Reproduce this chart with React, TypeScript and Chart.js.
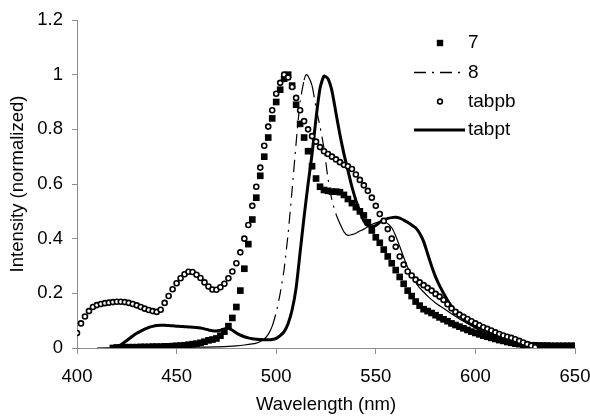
import React, { useEffect, useRef } from 'react';
import { Chart, registerables } from 'chart.js';

Chart.register(...registerables);

// ---------- Data ----------
const LABELS = ['7', '8', 'tabpb', 'tabpt'];

const WL_7 = [418,420,422,424,426,428,430,432,434,436,438,440,442,444,446,448,450,452,454,456,458,460,462,464,466,468,470,472,474,476,478,480,482,484,486,488,490,492,494,496,498,500,502,504,506,508,510,512,514,516,518,520,522,524,526,528,530,532,534,536,538,540,542,544,546,548,550,552,554,556,558,560,562,564,566,568,570,572,574,576,578,580,582,584,586,588,590,592,594,596,598,600,602,604,606,608,610,612,614,616,618,620,622,624,626,628,630,632,634,636,638,640,642,644,646,648,650];
const VAL_7 = [0,0.002,0.002,0.003,0.003,0.003,0.003,0.004,0.004,0.004,0.005,0.005,0.005,0.006,0.006,0.007,0.008,0.009,0.01,0.012,0.014,0.016,0.019,0.023,0.028,0.031,0.035,0.045,0.06,0.08,0.11,0.15,0.21,0.29,0.38,0.47,0.55,0.63,0.7,0.77,0.84,0.9,0.945,0.985,1.0,0.96,0.89,0.82,0.77,0.72,0.665,0.62,0.59,0.578,0.575,0.572,0.572,0.57,0.56,0.545,0.53,0.515,0.5,0.485,0.46,0.43,0.405,0.385,0.36,0.335,0.31,0.285,0.26,0.235,0.21,0.19,0.17,0.155,0.142,0.135,0.128,0.12,0.112,0.105,0.098,0.09,0.084,0.078,0.072,0.066,0.06,0.055,0.05,0.045,0.041,0.037,0.033,0.029,0.026,0.022,0.019,0.016,0.014,0.012,0.011,0.01,0.01,0.009,0.009,0.009,0.008,0.008,0.008,0.008,0.008,0.008,0.008];

const WL_8 = [410,420,430,440,450,460,470,476,480,484,488,490,492,494,496,498,500,502,504,506,508,510,512,514,515,516,518,520,522,524,526,528,530,532,534,536,538,540,542,544,546,548,550,552,554,556,558,560,562,564,566,568,570,572,574,576,578,580,584,588,592,596,600,605,610,615,620,625,630,640,650];
const VAL_8 = [0,0.001,0.001,0.002,0.002,0.003,0.004,0.006,0.008,0.011,0.015,0.018,0.024,0.033,0.05,0.08,0.13,0.2,0.29,0.42,0.58,0.75,0.9,0.98,1.0,0.995,0.96,0.88,0.81,0.73,0.62,0.54,0.49,0.455,0.425,0.412,0.415,0.42,0.428,0.435,0.444,0.452,0.458,0.462,0.462,0.455,0.44,0.41,0.372,0.332,0.295,0.265,0.24,0.22,0.205,0.19,0.177,0.165,0.145,0.125,0.106,0.09,0.075,0.058,0.044,0.033,0.024,0.017,0.012,0.008,0.006];

const WL_TABPB = [400,402,404,406,408,410,412,414,416,418,420,422,424,426,428,430,432,434,436,438,440,442,444,446,448,450,452,454,456,458,460,462,464,466,468,470,472,474,476,478,480,482,484,486,488,490,492,494,496,498,500,502,504,506,508,510,512,514,516,518,520,522,524,526,528,530,532,534,536,538,540,542,544,546,548,550,552,554,556,558,560,562,564,566,568,570,572,574,576,578,580,582,584,586,588,590,592,594,596,598,600,602,604,606,608,610,612,614,616,618,620,622,624,626,628,630];
const VAL_TABPB = [0.055,0.09,0.115,0.135,0.15,0.157,0.161,0.164,0.166,0.168,0.169,0.169,0.168,0.165,0.161,0.156,0.15,0.144,0.139,0.135,0.132,0.14,0.165,0.19,0.215,0.237,0.255,0.27,0.279,0.278,0.268,0.256,0.24,0.225,0.214,0.213,0.222,0.235,0.255,0.28,0.31,0.35,0.4,0.45,0.52,0.59,0.66,0.74,0.81,0.87,0.93,0.97,1.0,0.99,0.955,0.915,0.87,0.83,0.8,0.775,0.755,0.735,0.72,0.71,0.7,0.69,0.68,0.67,0.665,0.655,0.635,0.615,0.595,0.575,0.55,0.52,0.49,0.465,0.435,0.4,0.37,0.335,0.305,0.28,0.265,0.25,0.24,0.23,0.22,0.21,0.198,0.188,0.176,0.16,0.145,0.132,0.122,0.114,0.106,0.098,0.09,0.083,0.076,0.07,0.064,0.057,0.051,0.046,0.041,0.037,0.032,0.026,0.02,0.014,0.008,0.003];

const WL_TABPT = [418,420,422,424,426,428,430,432,434,436,438,440,442,444,446,448,450,452,454,456,458,460,462,464,466,468,470,472,474,476,478,480,482,484,486,488,490,492,494,496,498,500,502,504,506,508,510,512,514,516,518,520,522,524,526,528,530,532,534,536,538,540,542,544,546,548,550,552,554,556,558,560,562,564,566,568,570,572,574,576,578,580,582,584,586,588,590,594,598,602,606,610,615,620,625,630,640,650];
const VAL_TABPT = [0,0.005,0.012,0.022,0.033,0.044,0.054,0.062,0.069,0.075,0.079,0.082,0.083,0.083,0.082,0.081,0.08,0.079,0.078,0.077,0.076,0.075,0.073,0.07,0.066,0.063,0.062,0.065,0.07,0.072,0.065,0.055,0.047,0.041,0.037,0.034,0.032,0.031,0.03,0.03,0.031,0.035,0.045,0.06,0.09,0.14,0.22,0.35,0.48,0.6,0.71,0.84,0.95,0.995,0.985,0.94,0.86,0.78,0.71,0.65,0.59,0.54,0.5,0.465,0.448,0.444,0.448,0.46,0.468,0.474,0.477,0.478,0.475,0.468,0.46,0.45,0.44,0.42,0.39,0.345,0.3,0.26,0.228,0.2,0.175,0.152,0.132,0.105,0.085,0.068,0.055,0.044,0.033,0.024,0.017,0.012,0.008,0.006];

const X_MIN = 400;
const X_MAX = 650;
const X_STEP = 50;
const Y_MIN = 0;
const Y_MAX = 1.2;
const Y_STEP = 0.2;

const X_TITLE = 'Wavelength (nm)';
const Y_TITLE = 'Intensity (normalized)';

// ---------- Styling ----------
const FONT = "'Liberation Sans', Arial, sans-serif";
const AXIS_GRAY = '#8c8c8c';
const DASH_DOT = [12, 6, 2, 6];

function pts(xs: number[], ys: number[]) {
  return xs.map((x, i) => ({ x, y: ys[i] }));
}

const legendPlugin = {
  id: 'customLegend',
  afterDraw(chart: any) {
    const c: CanvasRenderingContext2D = chart.ctx;
    const area = chart.chartArea;
    const symX0 = area.right - 161;
    const symX1 = area.right - 110;
    const symMid = (symX0 + symX1) / 2 + 0.5;
    const textX = area.right - 107;
    const rowY = [area.top + 23, area.top + 52.5, area.top + 81.5, area.top + 110];
    c.save();
    c.fillStyle = '#000';
    c.strokeStyle = '#000';
    // 7: filled square
    c.fillRect(symMid - 3.2, rowY[0] - 3.2, 6.4, 6.4);
    // 8: dash-dot line
    c.lineWidth = 1.3;
    c.setLineDash(DASH_DOT);
    c.beginPath();
    c.moveTo(symX0, rowY[1]);
    c.lineTo(symX1, rowY[1]);
    c.stroke();
    c.setLineDash([]);
    // tabpb: open circle
    c.lineWidth = 1.6;
    c.fillStyle = '#fff';
    c.beginPath();
    c.arc(symMid, rowY[2], 2.4, 0, Math.PI * 2);
    c.fill();
    c.stroke();
    // tabpt: thick line
    c.lineWidth = 3;
    c.beginPath();
    c.moveTo(symX0, rowY[3]);
    c.lineTo(symX1, rowY[3]);
    c.stroke();
    // labels
    c.fillStyle = '#000';
    c.font = `19px ${FONT}`;
    c.textAlign = 'left';
    c.textBaseline = 'middle';
    LABELS.forEach((t, i) => c.fillText(t, textX, rowY[i]));
    c.restore();
  },
};

export default function App() {
  const ref = useRef<HTMLCanvasElement>(null);

  useEffect(() => {
    const canvas = ref.current;
    if (!canvas) return;
    const chart = new Chart(canvas, {
      type: 'scatter',
      data: {
        datasets: [
          {
            label: LABELS[2],
            data: pts(WL_TABPB, VAL_TABPB),
            showLine: false,
            pointStyle: 'circle',
            pointRadius: 2.5,
            pointBorderWidth: 1.6,
            pointBorderColor: '#000',
            pointBackgroundColor: '#fff',
            order: 0,
          },
          {
            label: LABELS[0],
            data: pts(WL_7, VAL_7),
            showLine: false,
            pointStyle: 'rect',
            pointRadius: 4.7,
            pointBorderWidth: 0,
            pointBorderColor: '#000',
            pointBackgroundColor: '#000',
            order: 1,
          },
          {
            label: LABELS[3],
            data: pts(WL_TABPT, VAL_TABPT),
            showLine: true,
            borderColor: '#000',
            borderWidth: 3,
            pointRadius: 0,
            tension: 0.2,
            borderJoinStyle: 'round',
            order: 2,
          },
          {
            label: LABELS[1],
            data: pts(WL_8, VAL_8),
            showLine: true,
            borderColor: '#000',
            borderWidth: 1.2,
            pointRadius: 0,
            tension: 0.2,
            segment: {
              borderDash: (ctx: any) =>
                Math.abs(ctx.p1.y - ctx.p0.y) > 12 ? DASH_DOT : undefined,
            },
            order: 3,
          },
        ],
      },
      options: {
        responsive: false,
        animation: false,
        devicePixelRatio: 1,
        events: [],
        layout: { padding: { top: 20, right: 15, left: 0, bottom: 0 } },
        plugins: {
          legend: { display: false },
          tooltip: { enabled: false },
        },
        scales: {
          x: {
            type: 'linear',
            min: X_MIN,
            max: X_MAX,
            afterFit: (s: any) => {
              s.height = 68;
              s.paddingLeft = 0;
              s.paddingRight = 0;
            },
            ticks: {
              stepSize: X_STEP,
              color: '#000',
              font: { family: FONT, size: 18.5 },
              padding: 12,
              maxRotation: 0,
            },
            grid: {
              display: true,
              drawOnChartArea: false,
              drawTicks: true,
              tickLength: 6,
              color: AXIS_GRAY,
            },
            border: { display: true, color: AXIS_GRAY, width: 1 },
            title: {
              display: true,
              text: X_TITLE,
              color: '#000',
              font: { family: FONT, size: 18.5 },
              padding: { top: 0, bottom: 0 },
            },
          },
          y: {
            type: 'linear',
            min: Y_MIN,
            max: Y_MAX,
            afterFit: (s: any) => {
              s.width = 77;
              s.paddingTop = 0;
              s.paddingBottom = 0;
            },
            ticks: {
              stepSize: Y_STEP,
              color: '#000',
              font: { family: FONT, size: 18.5 },
              padding: 9,
              callback: (v: any) => String(Math.round(Number(v) * 10) / 10),
            },
            grid: {
              display: true,
              drawOnChartArea: false,
              drawTicks: true,
              tickLength: 5,
              color: AXIS_GRAY,
            },
            border: { display: true, color: AXIS_GRAY, width: 1 },
            title: {
              display: true,
              text: Y_TITLE,
              color: '#000',
              font: { family: FONT, size: 18.5 },
              padding: { top: 7, bottom: 0 },
            },
          },
        },
      },
      plugins: [legendPlugin],
    } as any);
    return () => chart.destroy();
  }, []);

  return (
    <div style={{ position: 'absolute', left: 0, top: 0, width: 590, height: 416, background: '#fff' }}>
      <canvas ref={ref} width={590} height={416} style={{ display: 'block' }} />
    </div>
  );
}
